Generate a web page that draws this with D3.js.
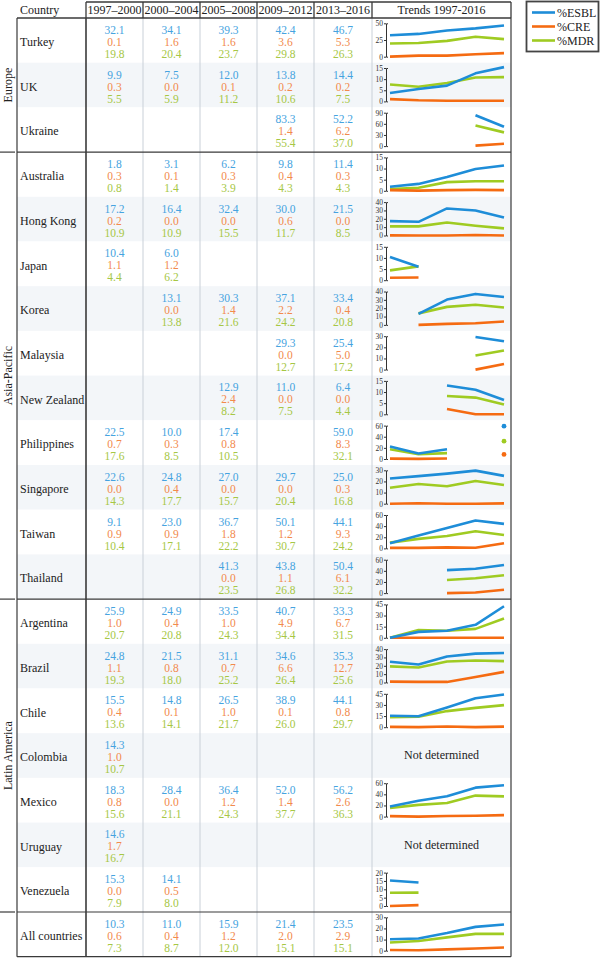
<!DOCTYPE html>
<html><head><meta charset="utf-8">
<script src="https://cdn.jsdelivr.net/npm/d3@7"></script>
<style>body{margin:0;background:#fff}svg{display:block}</style>
</head><body>
<svg id="c" width="600" height="959"></svg>
<script>
// ---------- DATA ----------
const periods = ["1997–2000","2000–2004","2005–2008","2009–2012","2013–2016"];
const seriesNames = ["%ESBL","%CRE","%MDR"];
const regionNames = ["Europe","Asia-Pacific","Latin America",""];
const regionSizes = [3,10,7,1];
const countries = ["Turkey","UK","Ukraine","Australia","Hong Kong","Japan","Korea","Malaysia","New Zealand","Philippines","Singapore","Taiwan","Thailand","Argentina","Brazil","Chile","Colombia","Mexico","Uruguay","Venezuela","All countries"];
const n = null;
const esbl = [
 [32.1,34.1,39.3,42.4,46.7],[9.9,7.5,12.0,13.8,14.4],[n,n,n,83.3,52.2],
 [1.8,3.1,6.2,9.8,11.4],[17.2,16.4,32.4,30.0,21.5],[10.4,6.0,n,n,n],[n,13.1,30.3,37.1,33.4],
 [n,n,n,29.3,25.4],[n,n,12.9,11.0,6.4],[22.5,10.0,17.4,n,59.0],[22.6,24.8,27.0,29.7,25.0],
 [9.1,23.0,36.7,50.1,44.1],[n,n,41.3,43.8,50.4],
 [25.9,24.9,33.5,40.7,33.3],[24.8,21.5,31.1,34.6,35.3],[15.5,14.8,26.5,38.9,44.1],[14.3,n,n,n,n],
 [18.3,28.4,36.4,52.0,56.2],[14.6,n,n,n,n],[15.3,14.1,n,n,n],
 [10.3,11.0,15.9,21.4,23.5]
];
const cre = [
 [0.1,1.6,1.6,3.6,5.3],[0.3,0.0,0.1,0.2,0.2],[n,n,n,1.4,6.2],
 [0.3,0.1,0.3,0.4,0.3],[0.2,0.0,0.0,0.6,0.0],[1.1,1.2,n,n,n],[n,0.0,1.4,2.2,0.4],
 [n,n,n,0.0,5.0],[n,n,2.4,0.0,0.0],[0.7,0.3,0.8,n,8.3],[0.0,0.4,0.0,0.0,0.3],
 [0.9,0.9,1.8,1.2,9.3],[n,n,0.0,1.1,6.1],
 [1.0,0.4,1.0,4.9,6.7],[1.1,0.8,0.7,6.6,12.7],[0.4,0.1,1.0,0.1,0.8],[1.0,n,n,n,n],
 [0.8,0.0,1.2,1.4,2.6],[1.7,n,n,n,n],[0.0,0.5,n,n,n],
 [0.6,0.4,1.2,2.0,2.9]
];
const mdr = [
 [19.8,20.4,23.7,29.8,26.3],[5.5,5.9,11.2,10.6,7.5],[n,n,n,55.4,37.0],
 [0.8,1.4,3.9,4.3,4.3],[10.9,10.9,15.5,11.7,8.5],[4.4,6.2,n,n,n],[n,13.8,21.6,24.2,20.8],
 [n,n,n,12.7,17.2],[n,n,8.2,7.5,4.4],[17.6,8.5,10.5,n,32.1],[14.3,17.7,15.7,20.4,16.8],
 [10.4,17.1,22.2,30.7,24.2],[n,n,23.5,26.8,32.2],
 [20.7,20.8,24.3,34.4,31.5],[19.3,18.0,25.2,26.4,25.6],[13.6,14.1,21.7,26.0,29.7],[10.7,n,n,n,n],
 [15.6,21.1,24.3,37.7,36.3],[16.7,n,n,n,n],[7.9,8.0,n,n,n],
 [7.3,8.7,12.0,15.1,15.1]
];
// Sparkline values that differ from the table in the original figure
const trendUK = {esbl:[3.8,5.6,7.1,12.6,15.4], cre:[1.0,0.5,0.3,0.3,0.3], mdr:[7.6,6.6,8.3,10.7,10.9]};
const trendArgentina = {esbl:[0,8,9.5,17.5,42.5], cre:[0,0,0,0,0], mdr:[0,10.5,9.5,12,26]};
const trendKoreaCre = [n,0,1.2,2.0,4.0];
const axisMax  = [50,15,90,15,40,15,40,30,15,60,30,60,60,45,40,45,n,60,n,20,30];
const axisStep = [25,5,30,5,10,5,10,10,5,20,10,20,20,15,10,15,n,20,n,5,10];

// ---------- LAYOUT ----------
const svg = d3.select("#c");
const FONT = "'Liberation Serif', 'DejaVu Serif', serif";
const top0 = 18, rowH = 44.7;
const colEdges = [86,143,200,257,314,372];
const trendL = 372, trendR = 511;
const textCol = ["#45a3e0","#f28a4c","#a6c744"];
const lineCol = ["#1e8dd8","#f56b12","#9fcb22"];
const shade = "#f3f6f9";
const rowTop = i => top0 + i*rowH;

// row shading
svg.append("g").selectAll("rect").data(countries).join("rect")
  .attr("x",17).attr("width",trendR-17)
  .attr("y",(d,i)=>rowTop(i)).attr("height",rowH)
  .attr("fill",(d,i)=>{
    const alt = [1,4,6,8,10,12,14,16,18];
    return alt.includes(i) ? shade : "#fff";
  });

// light vertical grid
const g = svg.append("g");
[143,200,257,314,372].forEach(x=>{
  g.append("line").attr("x1",x).attr("x2",x).attr("y1",top0).attr("y2",rowTop(21))
   .attr("stroke","#c9d0d8").attr("stroke-width",1);
});
// header boxes
const dark = "#3a3a3a";
g.append("line").attr("x1",86).attr("x2",trendR).attr("y1",2).attr("y2",2).attr("stroke",dark).attr("stroke-width",1.3);
[86,143,200,257,314,372,511].forEach(x=>{
  g.append("line").attr("x1",x).attr("x2",x).attr("y1",2).attr("y2",top0).attr("stroke",dark).attr("stroke-width",1.3);
});
g.append("line").attr("x1",17).attr("x2",trendR).attr("y1",top0).attr("y2",top0).attr("stroke",dark).attr("stroke-width",1.3);
// main dark verticals
[[17,1.2],[86,1.6],[511,1.2]].forEach(([x,w])=>{
  g.append("line").attr("x1",x).attr("x2",x).attr("y1",top0).attr("y2",rowTop(21)).attr("stroke",dark).attr("stroke-width",w);
});
// region separators
let acc = 0;
regionSizes.forEach((s,ri)=>{
  acc += s;
  const y = rowTop(acc);
  g.append("line").attr("x1",17).attr("x2",trendR).attr("y1",y).attr("y2",y).attr("stroke",dark).attr("stroke-width",1.2);
  if (ri < regionSizes.length-1)
    g.append("line").attr("x1",0).attr("x2",15).attr("y1",y).attr("y2",y).attr("stroke",dark).attr("stroke-width",1.2);
});

// header text
const hdr = svg.append("g").attr("font-family",FONT).attr("font-size",12).attr("fill","#222");
hdr.append("text").attr("x",20).attr("y",10).attr("dy","0.35em").text("Country");
periods.forEach((p,j)=>{
  hdr.append("text").attr("x",(colEdges[j]+colEdges[j+1])/2).attr("y",10).attr("dy","0.35em")
    .attr("text-anchor","middle").text(p);
});
hdr.append("text").attr("x",(trendL+trendR)/2).attr("y",10).attr("dy","0.35em").attr("text-anchor","middle").text("Trends 1997-2016");

// region labels
acc = 0;
regionSizes.forEach((s,ri)=>{
  const cy = (rowTop(acc)+rowTop(acc+s))/2;
  acc += s;
  if (!regionNames[ri]) return;
  svg.append("text").attr("transform",`translate(8,${cy}) rotate(-90)`).attr("dy","0.35em")
    .attr("text-anchor","middle").attr("font-family",FONT).attr("font-size",12).attr("fill","#222")
    .text(regionNames[ri]);
});

// country names and values
const body = svg.append("g").attr("font-family",FONT);
countries.forEach((c,i)=>{
  const cy = rowTop(i)+rowH/2+1.5;
  body.append("text").attr("x",20).attr("y",cy).attr("dy","0.35em").attr("font-size",12).attr("fill","#222").text(c);
  [esbl,cre,mdr].forEach((arr,k)=>{
    arr[i].forEach((v,j)=>{
      if (v==null) return;
      body.append("text").attr("x",(colEdges[j]+colEdges[j+1])/2).attr("y",cy+(k-1)*12).attr("dy","0.35em")
        .attr("text-anchor","middle").attr("font-size",11.5).attr("fill",textCol[k]).text(v.toFixed(1));
    });
  });
});

// sparklines
const xS = d3.scalePoint().domain(periods).range([390,504]);
countries.forEach((c,i)=>{
  const t = rowTop(i);
  if (axisMax[i]==null) {
    body.append("text").attr("x",(trendL+trendR)/2).attr("y",t+rowH/2-0.5).attr("dy","0.35em")
      .attr("text-anchor","middle").attr("font-size",12).attr("fill","#222").text("Not determined");
    return;
  }
  const yS = d3.scaleLinear().domain([0,axisMax[i]]).range([t+38.7,t+5.3]);
  const ax = d3.axisLeft(yS).tickValues(d3.range(0,axisMax[i]+axisStep[i]/2,axisStep[i]))
    .tickSizeInner(2).tickSizeOuter(-2).tickPadding(1);
  const ag = svg.append("g").attr("transform","translate(386,0)").call(ax);
  ag.selectAll("path,line").attr("stroke","#333").attr("stroke-width",1);
  ag.selectAll("text").attr("font-family",FONT).attr("font-size",7.5).attr("fill","#333");

  let series = [esbl[i],cre[i],mdr[i]];
  if (c==="UK") series = [trendUK.esbl,trendUK.cre,trendUK.mdr];
  if (c==="Argentina") series = [trendArgentina.esbl,trendArgentina.cre,trendArgentina.mdr];
  if (c==="Korea") series = [esbl[i],trendKoreaCre,mdr[i]];
  const line = d3.line().defined(d=>d.v!=null).x(d=>xS(d.p)).y(d=>yS(d.v));
  [2,1,0].forEach(k=>{
    const pts = series[k].map((v,j)=>({p:periods[j],v}));
    svg.append("path").datum(pts).attr("d",line).attr("fill","none")
      .attr("stroke",lineCol[k]).attr("stroke-width",2.6).attr("stroke-linejoin","round");
    pts.forEach((d,j)=>{
      const prev = j>0 ? pts[j-1].v : null, next = j<pts.length-1 ? pts[j+1].v : null;
      if (d.v!=null && prev==null && next==null)
        svg.append("circle").attr("cx",xS(d.p)).attr("cy",yS(d.v)).attr("r",2.4).attr("fill",lineCol[k]);
    });
  });
});

// legend
const lg = svg.append("g");
lg.append("rect").attr("x",526.5).attr("y",1.5).attr("width",72).attr("height",50)
  .attr("fill","#fff").attr("stroke","#444").attr("stroke-width",1.8);
seriesNames.forEach((s,k)=>{
  const y = 12.5 + k*14;
  lg.append("line").attr("x1",532).attr("x2",555).attr("y1",y).attr("y2",y).attr("stroke",lineCol[k]).attr("stroke-width",2.6);
  lg.append("text").attr("x",557).attr("y",y).attr("dy","0.35em").attr("font-family",FONT).attr("font-size",12).attr("fill","#222").text(s);
});
</script>
</body></html>
